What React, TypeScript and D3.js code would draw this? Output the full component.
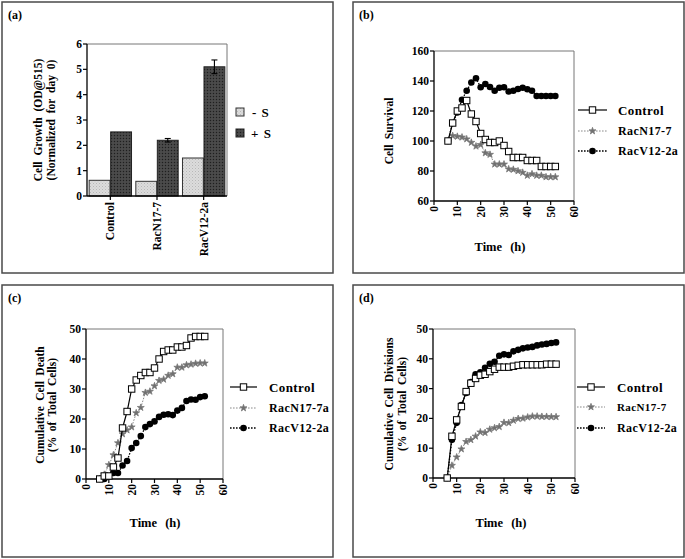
import React from "react";
import * as d3 from "d3";

const FONT = "'Liberation Serif', 'Times New Roman', 'DejaVu Serif', serif";

// ---------- Panel (a) data ----------
const groups = ["Control", "RacN17-7", "RacV12-2a"];
const minusS = [0.62, 0.58, 1.5];
const plusS = [2.53, 2.2, 5.1];
const plusSErr = [0.0, 0.07, 0.27];
const growthTicks = [0, 1, 2, 3, 4, 5, 6];

// ---------- Time points ----------
const timeH = [6, 8, 10, 12, 14, 16, 18, 20, 22, 24, 26, 28, 30, 32, 34, 36, 38, 40, 42, 44, 46, 48, 50, 52];
const timeTicks = [0, 10, 20, 30, 40, 50, 60];

// ---------- Panel (b) Cell survival ----------
const survivalControl = [100, 112, 120, 122, 127, 118, 113, 105, 101, 99, 99, 100, 97, 93, 89, 89, 89, 87, 87, 87, 83, 83, 83, 83];
const survivalN17 = [100, 103.5, 103, 102.5, 101.3, 99, 96.5, 97.5, 92, 91, 84.5, 84.5, 84.5, 81.3, 81, 80, 79, 77, 78, 77, 77, 76, 76, 76];
const survivalV12 = [100, 112, 119, 127.5, 133.5, 139, 141.8, 135.8, 138, 136, 133.5, 135.5, 135.8, 133, 133.5, 134.7, 135.5, 134.5, 133.5, 130, 130, 130, 130, 130];
const survivalTicks = [60, 80, 100, 120, 140, 160];

// ---------- Panel (c) Cumulative cell death ----------
const deathControl = [0, 1, 1, 4, 7, 17, 22.5, 30, 33, 34.5, 35.5, 35.5, 37, 40, 42.5, 43, 43, 44, 44, 44.5, 47, 47.5, 47.5, 47.5];
const deathN17 = [0, 1.5, 4.7, 8, 12, 15, 16.3, 17.3, 22, 23.8, 28.8, 29.2, 31, 32.8, 33.2, 34.5, 35, 37.2, 37.2, 38, 38.2, 38.5, 38.6, 38.6];
const deathV12 = [0, 0, 1, 2, 2, 4.5, 6, 10.3, 12, 14.3, 17.3, 18.3, 19.2, 20.7, 21.4, 21.6, 21.3, 22.8, 23.7, 26, 26.5, 26.4, 27.3, 27.6];

// ---------- Panel (d) Cumulative cell divisions ----------
const divControl = [0, 14, 19.5, 24, 29, 31.8, 33.4, 34.5, 34.8, 35.7, 36.5, 37.2, 37.2, 37.2, 37.5, 37.8, 38, 38, 38, 38, 38, 38.2, 38.2, 38.2];
const divN17 = [0, 4.2, 7, 9.7, 12.2, 12.8, 14, 15.4, 15.2, 16.3, 16.8, 17.2, 18.6, 18.5, 19.3, 19.9, 20, 20.4, 20.7, 20.7, 20.6, 20.6, 20.5, 20.5];
const divV12 = [0, 12.8, 18.5, 24.5, 28.5, 32.2, 34.8, 35.5, 37, 38.3, 39, 41, 41.5, 41.3, 42.5, 43, 43.5, 43.8, 44, 44.5, 44.8, 45, 45.3, 45.5];
const percentTicks = [0, 10, 20, 30, 40, 50];

type Kind = "square" | "gray" | "black";

const lineStyle: Record<Kind, { stroke: string; width: number; dash?: string }> = {
  square: { stroke: "#000", width: 1.2 },
  gray: { stroke: "#8a8a8a", width: 1, dash: "1.6,1.4" },
  black: { stroke: "#000", width: 1.3, dash: "1.6,1.4" },
};

function Marker({ kind, x, y }: { kind: Kind; x: number; y: number }) {
  if (kind === "square")
    return <rect x={x - 3.2} y={y - 3.2} width={6.4} height={6.4} fill="#fff" stroke="#000" strokeWidth={1} />;
  if (kind === "black") return <circle cx={x} cy={y} r={3.3} fill="#000" />;
  return (
    <path
      d={d3.symbol(d3.symbolStar, 15)() as string}
      transform={`translate(${x},${y})`}
      fill="#707070"
      stroke="#7a7a7a"
      strokeWidth={0.8}
    />
  );
}

function PanelBox({ x, y, w, h, label }: { x: number; y: number; w: number; h: number; label: string }) {
  return (
    <g>
      <rect x={x} y={y} width={w} height={h} fill="#fff" stroke="#4a4a4a" strokeWidth={1.5} />
      <text x={x + 6} y={y + 17} fontFamily={FONT} fontWeight="bold" fontSize={12}>
        {label}
      </text>
    </g>
  );
}

type Series = { values: number[]; kind: Kind; label: string; labelSize: number };

function LinePanel(props: {
  plot: { x0: number; x1: number; y0: number; y1: number };
  yDomain: [number, number];
  yTicks: number[];
  yTitle: string[];
  yTitleX: number[];
  yTitleCy: number;
  timeLabelX: number;
  timeLabelY: number;
  series: Series[];
  legend: { lx0: number; lx1: number; tx: number; ys: number[] };
}) {
  const { plot, yDomain, yTicks, series, legend } = props;
  const x = d3.scaleLinear().domain([0, 60]).range([plot.x0, plot.x1]);
  const y = d3.scaleLinear().domain(yDomain).range([plot.y1, plot.y0]);
  const line = d3
    .line<number>()
    .x((_, i) => x(timeH[i]))
    .y((v) => y(v));
  const drawOrder: Kind[] = ["black", "gray", "square"];
  const ordered = drawOrder.map((k) => series.find((s) => s.kind === k)!).filter(Boolean);
  return (
    <g>
      <line x1={plot.x0} x2={plot.x1} y1={plot.y0} y2={plot.y0} stroke="#777" strokeWidth={1} />
      <line x1={plot.x1} x2={plot.x1} y1={plot.y0} y2={plot.y1} stroke="#777" strokeWidth={1} />
      <line x1={plot.x0} x2={plot.x0} y1={plot.y0} y2={plot.y1} stroke="#000" strokeWidth={1.3} />
      <line x1={plot.x0} x2={plot.x1} y1={plot.y1} y2={plot.y1} stroke="#000" strokeWidth={1.3} />
      {yTicks.map((t) => (
        <g key={"y" + t}>
          <line x1={plot.x0 - 4} x2={plot.x0} y1={y(t)} y2={y(t)} stroke="#000" strokeWidth={1.2} />
          <text x={plot.x0 - 5} y={y(t)} dy="0.35em" textAnchor="end" fontFamily={FONT} fontWeight="bold" fontSize={11.5}>
            {t}
          </text>
        </g>
      ))}
      {timeTicks.map((t) => (
        <g key={"x" + t}>
          <line x1={x(t)} x2={x(t)} y1={plot.y1} y2={plot.y1 + 4} stroke="#000" strokeWidth={1.2} />
          <text
            transform={`translate(${x(t)},${plot.y1 + 5}) rotate(-90)`}
            dy="0.35em"
            textAnchor="end"
            fontFamily={FONT}
            fontWeight="bold"
            fontSize={11.5}
          >
            {t}
          </text>
        </g>
      ))}
      {props.yTitle.map((s, i) => (
        <text
          key={s}
          transform={`translate(${props.yTitleX[i]},${props.yTitleCy}) rotate(-90)`}
          dy="0.35em"
          textAnchor="middle"
          fontFamily={FONT}
          fontWeight="bold"
          fontSize={11.5}
          wordSpacing={2.5}
        >
          {s}
        </text>
      ))}
      <text
        x={props.timeLabelX}
        y={props.timeLabelY}
        textAnchor="middle"
        fontFamily={FONT}
        fontWeight="bold"
        fontSize={12.5}
        wordSpacing={5}
      >
        Time (h)
      </text>
      {ordered.map((s) => {
        const st = lineStyle[s.kind];
        return (
          <g key={s.kind}>
            <path d={line(s.values) as string} fill="none" stroke={st.stroke} strokeWidth={st.width} strokeDasharray={st.dash} />
            {s.values.map((v, i) => (
              <Marker key={i} kind={s.kind} x={x(timeH[i])} y={y(v)} />
            ))}
          </g>
        );
      })}
      {series.map((s, i) => {
        const st = lineStyle[s.kind];
        const ly = legend.ys[i];
        return (
          <g key={"lg" + s.kind}>
            <line x1={legend.lx0} x2={legend.lx1} y1={ly} y2={ly} stroke={st.stroke} strokeWidth={st.width} strokeDasharray={st.dash} />
            <Marker kind={s.kind} x={(legend.lx0 + legend.lx1) / 2} y={ly} />
            <text x={legend.tx} y={ly} dy="0.35em" fontFamily={FONT} fontWeight="bold" fontSize={s.labelSize} letterSpacing={0.4}>
              {s.label}
            </text>
          </g>
        );
      })}
    </g>
  );
}

function BarPanel() {
  const plot = { x0: 87, x1: 227, y0: 44, y1: 196 };
  const x = d3.scaleBand<string>().domain(groups).range([plot.x0, plot.x1]).paddingInner(0).paddingOuter(0);
  const inner = d3.scaleBand<string>().domain(["-", "+"]).range([0, x.bandwidth()]).paddingInner(0.03).paddingOuter(0.1);
  const y = d3.scaleLinear().domain([0, 6]).range([plot.y1, plot.y0]);
  return (
    <g>
      <defs>
        <pattern id="lightPat" width="3" height="3" patternUnits="userSpaceOnUse">
          <rect width="3" height="3" fill="#dcdcdc" />
          <rect x="0" y="0" width="1" height="1" fill="#b8b8b8" />
          <rect x="1.5" y="1.5" width="1" height="1" fill="#c6c6c6" />
        </pattern>
        <pattern id="darkPat" width="3" height="3" patternUnits="userSpaceOnUse">
          <rect width="3" height="3" fill="#454545" />
          <rect x="0" y="0" width="1" height="1" fill="#1f1f1f" />
          <rect x="1.5" y="1.5" width="1" height="1" fill="#5c5c5c" />
        </pattern>
      </defs>
      <line x1={plot.x0} x2={plot.x1} y1={plot.y0} y2={plot.y0} stroke="#777" strokeWidth={1} />
      <line x1={plot.x1} x2={plot.x1} y1={plot.y0} y2={plot.y1} stroke="#777" strokeWidth={1} />
      {groups.map((g, i) => {
        const gx = x(g)!;
        const xm = gx + inner("-")!;
        const xp = gx + inner("+")!;
        const bw = inner.bandwidth();
        const errTop = y(plusS[i] + plusSErr[i]);
        const errBot = y(plusS[i] - plusSErr[i]);
        const cx = xp + bw / 2;
        return (
          <g key={g}>
            <rect x={xm} y={y(minusS[i])} width={bw} height={y(0) - y(minusS[i])} fill="url(#lightPat)" stroke="#333" strokeWidth={1} />
            <rect x={xp} y={y(plusS[i])} width={bw} height={y(0) - y(plusS[i])} fill="url(#darkPat)" stroke="#222" strokeWidth={1} />
            {plusSErr[i] > 0 && (
              <g stroke="#000" strokeWidth={1.1}>
                <line x1={cx} x2={cx} y1={errTop} y2={errBot} />
                <line x1={cx - 3} x2={cx + 3} y1={errTop} y2={errTop} />
                <line x1={cx - 3} x2={cx + 3} y1={errBot} y2={errBot} />
              </g>
            )}
            <line x1={gx + x.bandwidth() / 2} x2={gx + x.bandwidth() / 2} y1={plot.y1} y2={plot.y1 + 4} stroke="#000" strokeWidth={1.2} />
            <text
              transform={`translate(${gx + x.bandwidth() / 2},${plot.y1 + 6}) rotate(-90)`}
              dy="0.35em"
              textAnchor="end"
              fontFamily={FONT}
              fontWeight="bold"
              fontSize={11.5}
            >
              {g}
            </text>
          </g>
        );
      })}
      <line x1={plot.x0} x2={plot.x0} y1={plot.y0} y2={plot.y1} stroke="#000" strokeWidth={1.3} />
      <line x1={plot.x0} x2={plot.x1} y1={plot.y1} y2={plot.y1} stroke="#000" strokeWidth={1.3} />
      {growthTicks.map((t) => (
        <g key={t}>
          <line x1={plot.x0 - 4} x2={plot.x0} y1={y(t)} y2={y(t)} stroke="#000" strokeWidth={1.2} />
          <text x={plot.x0 - 5} y={y(t)} dy="0.35em" textAnchor="end" fontFamily={FONT} fontWeight="bold" fontSize={11.5}>
            {t}
          </text>
        </g>
      ))}
      {["Cell Growth (OD@515)", "(Normalized for day 0)"].map((s, i) => (
        <text
          key={s}
          transform={`translate(${[37.5, 50.5][i]},120) rotate(-90)`}
          dy="0.35em"
          textAnchor="middle"
          fontFamily={FONT}
          fontWeight="bold"
          fontSize={11.5}
          wordSpacing={3}
        >
          {s}
        </text>
      ))}
      <rect x={236} y={108} width={8} height={8} fill="url(#lightPat)" stroke="#333" strokeWidth={1} />
      <rect x={236} y={129} width={8} height={8} fill="url(#darkPat)" stroke="#222" strokeWidth={1} />
      <text x={252} y={112} dy="0.35em" fontFamily={FONT} fontWeight="bold" fontSize={13} wordSpacing={2}>
        - S
      </text>
      <text x={251} y={133} dy="0.35em" fontFamily={FONT} fontWeight="bold" fontSize={13} wordSpacing={2}>
        + S
      </text>
    </g>
  );
}

export default function App() {
  return (
    <div style={{ position: "absolute", left: 0, top: 0 }}>
      <svg width={685} height={559} style={{ display: "block", background: "#fff" }}>
        <rect width={685} height={559} fill="#fff" />
        <PanelBox x={2} y={2} w={331} h={271} label="(a)" />
        <PanelBox x={353} y={2} w={331} h={271} label="(b)" />
        <PanelBox x={2} y={285} w={331} h={272} label="(c)" />
        <PanelBox x={353} y={285} w={331} h={272} label="(d)" />
        <BarPanel />
        <LinePanel
          plot={{ x0: 434, x1: 574, y0: 51, y1: 201 }}
          yDomain={[60, 160]}
          yTicks={survivalTicks}
          yTitle={["Cell Survival"]}
          yTitleX={[389]}
          yTitleCy={131}
          timeLabelX={500}
          timeLabelY={251}
          series={[
            { values: survivalControl, kind: "square", label: "Control", labelSize: 13 },
            { values: survivalN17, kind: "gray", label: "RacN17-7", labelSize: 12 },
            { values: survivalV12, kind: "black", label: "RacV12-2a", labelSize: 12 },
          ]}
          legend={{ lx0: 578, lx1: 607, tx: 618, ys: [110, 131, 151] }}
        />
        <LinePanel
          plot={{ x0: 86, x1: 223, y0: 329, y1: 479 }}
          yDomain={[0, 50]}
          yTicks={percentTicks}
          yTitle={["Cumulative Cell Death", "(% of Total Cells)"]}
          yTitleX={[39.5, 52]}
          yTitleCy={405}
          timeLabelX={155}
          timeLabelY={527}
          series={[
            { values: deathControl, kind: "square", label: "Control", labelSize: 13 },
            { values: deathN17, kind: "gray", label: "RacN17-7a", labelSize: 12 },
            { values: deathV12, kind: "black", label: "RacV12-2a", labelSize: 12 },
          ]}
          legend={{ lx0: 230, lx1: 257, tx: 269, ys: [387, 408, 428] }}
        />
        <LinePanel
          plot={{ x0: 433, x1: 575, y0: 329, y1: 478 }}
          yDomain={[0, 50]}
          yTicks={percentTicks}
          yTitle={["Cumulative Cell Divisions", "(% of Total Cells)"]}
          yTitleX={[389, 402]}
          yTitleCy={404}
          timeLabelX={501}
          timeLabelY={527}
          series={[
            { values: divControl, kind: "square", label: "Control", labelSize: 13 },
            { values: divN17, kind: "gray", label: "RacN17-7", labelSize: 11 },
            { values: divV12, kind: "black", label: "RacV12-2a", labelSize: 12 },
          ]}
          legend={{ lx0: 577, lx1: 605, tx: 617, ys: [387, 407, 428] }}
        />
      </svg>
    </div>
  );
}
